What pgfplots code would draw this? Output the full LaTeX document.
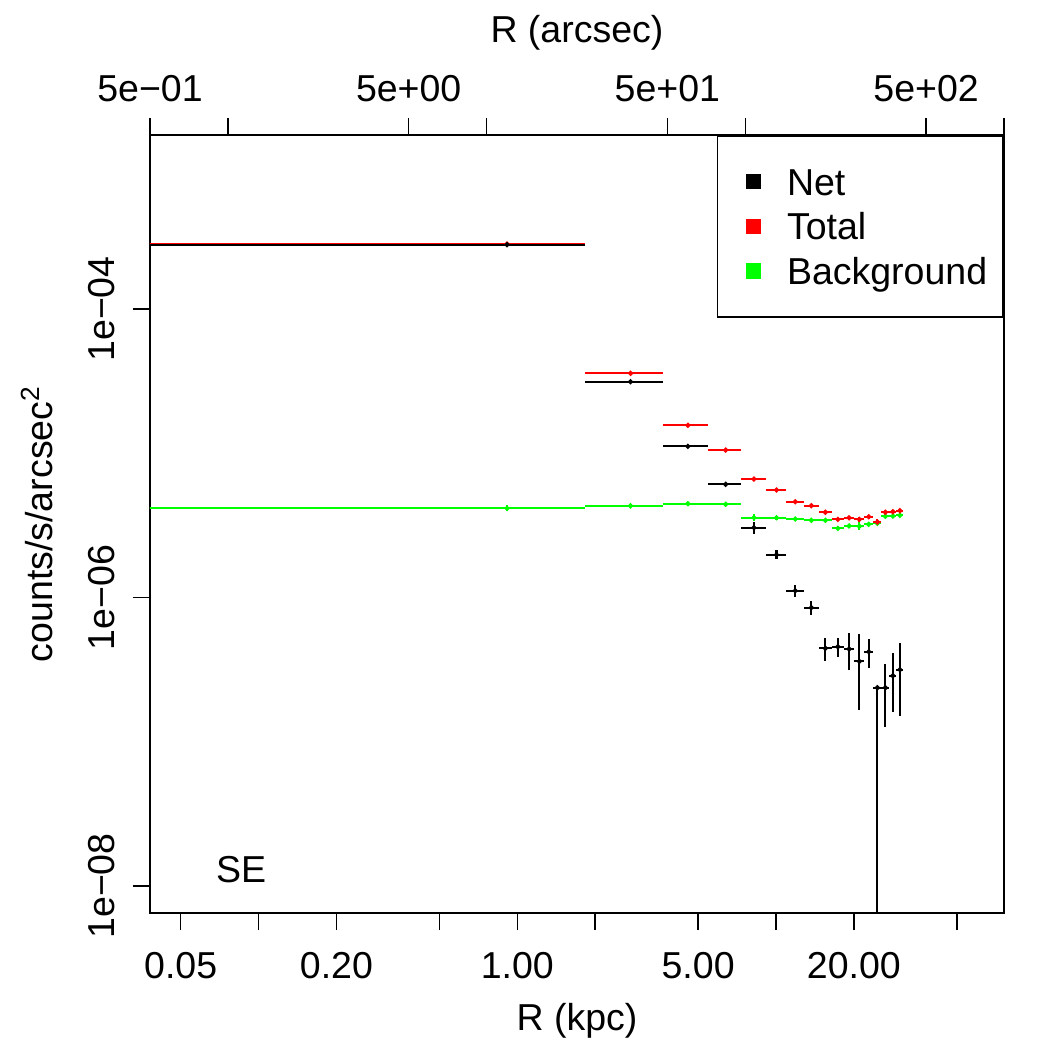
\documentclass[border=0pt]{standalone}
\usepackage{fontspec}
\setmainfont{Liberation Sans}
\usepackage{pgfplots}
\usepackage{pgfplotstable}
\pgfplotsset{compat=1.18}
\newcommand\fs{\fontsize{18bp}{21.6bp}\selectfont}

% Net counts
\pgfplotstableread{
x xm xp y ym yp
0.913 0.903 0.913 2.790e-4 2.0e-6 2.0e-6
2.739 0.913 0.913 3.130e-5 0.4e-6 0.4e-6
4.565 0.913 0.913 1.117e-5 0.2e-6 0.2e-6
6.391 0.913 0.913 6.090e-6 0.15e-6 0.15e-6
8.217 0.913 0.913 3.050e-6 0.28e-6 0.28e-6
10.043 0.913 0.913 1.980e-6 0.143e-6 0.143e-6
11.869 0.913 0.913 1.114e-6 0.104e-6 0.104e-6
13.695 0.913 0.913 8.500e-7 0.089e-6 0.089e-6
15.521 0.913 0.913 4.445e-7 0.080e-6 0.080e-6
17.347 0.913 0.913 4.560e-7 0.069e-6 0.069e-6
19.173 0.913 0.913 4.400e-7 0.125e-6 0.125e-6
20.999 0.913 0.913 3.610e-7 0.195e-6 0.195e-6
22.825 0.913 0.913 4.210e-7 0.097e-6 0.097e-6
24.651 0.913 0.913 2.370e-7 2.3665e-7 0.0
26.477 0.913 0.913 2.370e-7 0.110e-6 0.110e-6
28.303 0.913 0.913 2.870e-7 0.126e-6 0.126e-6
30.129 0.913 0.913 3.160e-7 0.166e-6 0.166e-6
}\net

% Total counts
\pgfplotstableread{
x xm xp y ym yp
0.913 0.903 0.913 2.822e-4 1.5e-6 1.5e-6
2.739 0.913 0.913 3.583e-5 0.3e-6 0.3e-6
4.565 0.913 0.913 1.563e-5 0.15e-6 0.15e-6
6.391 0.913 0.913 1.053e-5 0.12e-6 0.12e-6
8.217 0.913 0.913 6.630e-6 0.12e-6 0.12e-6
10.043 0.913 0.913 5.560e-6 0.10e-6 0.10e-6
11.869 0.913 0.913 4.610e-6 0.10e-6 0.10e-6
13.695 0.913 0.913 4.330e-6 0.10e-6 0.10e-6
15.521 0.913 0.913 3.900e-6 0.10e-6 0.10e-6
17.347 0.913 0.913 3.480e-6 0.10e-6 0.10e-6
19.173 0.913 0.913 3.570e-6 0.10e-6 0.10e-6
20.999 0.913 0.913 3.480e-6 0.12e-6 0.12e-6
22.825 0.913 0.913 3.630e-6 0.10e-6 0.10e-6
24.651 0.913 0.913 3.340e-6 0.15e-6 0.15e-6
26.477 0.913 0.913 3.900e-6 0.10e-6 0.10e-6
28.303 0.913 0.913 3.930e-6 0.10e-6 0.10e-6
30.129 0.913 0.913 4.000e-6 0.10e-6 0.10e-6
}\tot

% Background counts
\pgfplotstableread{
x xm xp y ym yp
0.913 0.903 0.913 4.153e-6 0.20e-6 0.20e-6
2.739 0.913 0.913 4.315e-6 0.10e-6 0.10e-6
4.565 0.913 0.913 4.470e-6 0.08e-6 0.08e-6
6.391 0.913 0.913 4.430e-6 0.08e-6 0.08e-6
8.217 0.913 0.913 3.573e-6 0.20e-6 0.20e-6
10.043 0.913 0.913 3.573e-6 0.10e-6 0.10e-6
11.869 0.913 0.913 3.500e-6 0.08e-6 0.08e-6
13.695 0.913 0.913 3.430e-6 0.08e-6 0.08e-6
15.521 0.913 0.913 3.430e-6 0.08e-6 0.08e-6
17.347 0.913 0.913 3.018e-6 0.08e-6 0.08e-6
19.173 0.913 0.913 3.135e-6 0.10e-6 0.10e-6
20.999 0.913 0.913 3.120e-6 0.20e-6 0.20e-6
22.825 0.913 0.913 3.216e-6 0.10e-6 0.10e-6
24.651 0.913 0.913 3.268e-6 0.10e-6 0.10e-6
26.477 0.913 0.913 3.660e-6 0.10e-6 0.10e-6
28.303 0.913 0.913 3.670e-6 0.10e-6 0.10e-6
30.129 0.913 0.913 3.713e-6 0.10e-6 0.10e-6
}\bkg

\definecolor{rred}{RGB}{255,0,0}
\definecolor{rgreen}{RGB}{0,255,0}

\pgfplotsset{
  eb/.style={only marks, mark=*, mark size=0.7bp, line width=1bp, forget plot, #1,
    error bars/.cd, x dir=both, x explicit, y dir=both, y explicit, error mark=none,
    error bar style={line width=1bp, #1}},
}

\begin{document}
\begin{tikzpicture}
\begin{axis}[
  at={(0,0)}, anchor=south west,
  scale only axis, width=409.92bp, height=373.44bp,
  xmode=log, ymode=log,
  xmin=0.0380417, xmax=76.083, ymin=6.50e-9, ymax=1.608e-3,
  xtick={0.05,0.1,0.2,0.5,1,2,5,10,20,50},
  xticklabels={0.05,,0.20,,1.00,,5.00,,20.00,},
  ytick={1e-8,1e-6,1e-4},
  yticklabels={1e−08,1e−06,1e−04},
  xminorticks=false, yminorticks=false,
  xtick pos=left, ytick pos=left,
  tick align=outside,
  major tick length=8.2bp,
  every tick/.style={black, line width=0.75bp},
  axis line style={line width=0.75bp},
  ticklabel style={font=\fs},
  xticklabel style={inner sep=0pt, anchor=north, yshift=-10.5bp},
  yticklabel style={inner sep=0pt, xshift=-8.6bp, rotate=90, anchor=south},
  xlabel={R (kpc)}, ylabel={counts/s/arcsec\textsuperscript{2}},
  label style={font=\fs},
  xlabel style={at={(axis description cs:0.5,-0.1504)}, anchor=base},
  ylabel style={at={(axis description cs:-0.1136,0.5)}, anchor=base},
  legend style={at={(1,1)}, anchor=north east, draw=black, line width=0.75bp,
    fill=white, font=\fs, inner xsep=7.7bp, inner ysep=11.4bp, row sep=0pt,
    column sep=12.55bp,
    nodes={inner xsep=0pt, inner ysep=4.25bp, text height=12.9bp, text depth=0pt}},
  legend cell align=left,
]
\addplot[eb=rgreen] table[x=x, y=y, x error plus=xp, x error minus=xm, y error plus=yp, y error minus=ym] {\bkg};
\addplot[eb=rred] table[x=x, y=y, x error plus=xp, x error minus=xm, y error plus=yp, y error minus=ym] {\tot};
\addplot[eb=black] table[x=x, y=y, x error plus=xp, x error minus=xm, y error plus=yp, y error minus=ym] {\net};

\addlegendimage{legend image code/.code={\path (-5.7bp,0bp); \fill[black] (0bp,-3.3bp) rectangle (6.6bp,3.3bp);}}
\addlegendentry{Net}
\addlegendimage{legend image code/.code={\path (-5.7bp,0bp); \fill[rred] (0bp,-3.3bp) rectangle (6.6bp,3.3bp);}}
\addlegendentry{Total}
\addlegendimage{legend image code/.code={\path (-5.7bp,0bp); \fill[rgreen] (0bp,-3.3bp) rectangle (6.6bp,3.3bp);}}
\addlegendentry{Background}

\node[font=\fs, inner sep=0pt] at (rel axis cs:0.1066,0.0553) {SE};
\end{axis}

\begin{axis}[
  at={(0,0)}, anchor=south west,
  scale only axis, width=409.92bp, height=373.44bp,
  xmode=log, xmin=0.5, xmax=1000, ymin=0, ymax=1,
  axis x line*=top, axis y line=none,
  xtick={0.5,1,5,10,50,100,500,1000},
  xticklabels={5e−01,,5e+00,,5e+01,,5e+02,},
  xminorticks=false,
  tick align=outside,
  major tick length=8.2bp,
  every tick/.style={black, line width=0.75bp},
  axis line style={line width=0.75bp},
  ticklabel style={font=\fs},
  xticklabel style={inner sep=0pt, anchor=south, yshift=7.6bp},
  xlabel={R (arcsec)},
  label style={font=\fs},
  xlabel style={at={(axis description cs:0.5,1.1195)}, anchor=base},
]
\addplot[draw=none, forget plot] coordinates {(1,0.5)};
\end{axis}
\pgfresetboundingbox
\path (-72bp,-65.76bp) rectangle (432bp,438.24bp);
\end{tikzpicture}
\end{document}
